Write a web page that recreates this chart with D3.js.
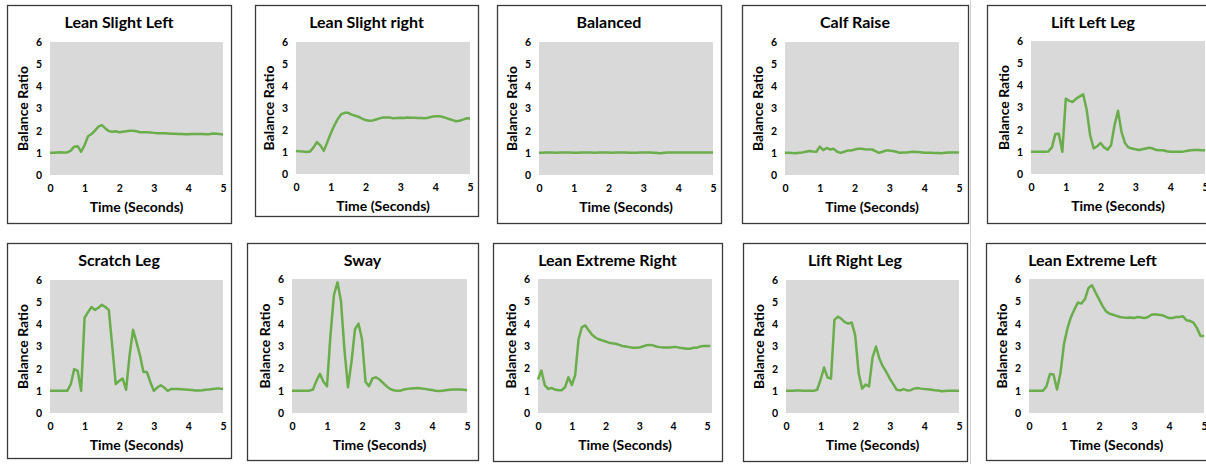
<!DOCTYPE html>
<html>
<head>
<meta charset="utf-8">
<script src="https://cdn.jsdelivr.net/npm/d3@7"></script>
<style>
  body { margin: 0; background: #fff; }
  svg { display: block; font-family: Lato, "Open Sans", sans-serif; }
</style>
</head>
<body>
<svg id="chart" width="1206" height="464"></svg>
<script>
const TIMES = [0,0.1,0.2,0.3,0.4,0.5,0.6,0.7,0.8,0.9,1.0,1.1,1.2,1.3,1.4,1.5,1.6,1.7,1.8,1.9,2.0,
  2.1,2.2,2.3,2.4,2.5,2.6,2.7,2.8,2.9,3.0,3.1,3.2,3.3,3.4,3.5,3.6,3.7,3.8,3.9,4.0,
  4.1,4.2,4.3,4.4,4.5,4.6,4.7,4.8,4.9,5.0];
const TIMES_LONG = [...TIMES, 5.1];  // "Lean Extreme Right" runs a bit past 5 s

const TITLES = ['Lean Slight Left', 'Lean Slight right', 'Balanced', 'Calf Raise', 'Lift Left Leg',
  'Scratch Leg', 'Sway', 'Lean Extreme Right', 'Lift Right Leg', 'Lean Extreme Left'];

const Y_TICKS = [0, 1, 2, 3, 4, 5, 6];
const X_TICKS = [0, 1, 2, 3, 4, 5];

const leanSlightLeft = [1.0,1.0,1.02,1.03,1.02,1.02,1.1,1.28,1.3,1.05,1.35,1.75,1.85,2.0,2.18,2.25,2.1,1.98,1.95,1.97,1.93,
  1.95,1.97,2.0,2.0,1.97,1.93,1.93,1.93,1.92,1.9,1.88,1.88,1.88,1.87,1.86,1.86,1.85,1.85,1.84,1.84,
  1.85,1.85,1.85,1.85,1.84,1.84,1.87,1.86,1.85,1.83];
const leanSlightRight = [1.05,1.03,1.02,1.0,1.02,1.2,1.45,1.3,1.05,1.45,1.85,2.2,2.5,2.72,2.78,2.78,2.7,2.65,2.6,2.52,2.45,
  2.42,2.43,2.48,2.53,2.57,2.57,2.57,2.53,2.55,2.56,2.55,2.57,2.56,2.56,2.55,2.54,2.53,2.56,2.6,2.62,
  2.63,2.6,2.55,2.5,2.45,2.4,2.42,2.47,2.53,2.52];
const balanced = [1.0,1.0,1.01,1.02,1.01,1.0,1.01,1.01,1.02,1.01,1.0,1.0,1.01,1.01,1.02,1.01,1.0,1.01,1.02,1.01,1.01,
  1.0,1.01,1.02,1.02,1.01,1.0,1.0,1.0,1.01,1.02,1.02,1.01,1.0,0.99,0.98,1.0,1.01,1.01,1.01,1.01,
  1.01,1.02,1.01,1.01,1.01,1.01,1.02,1.02,1.02,1.02];
const calfRaise = [1.0,1.0,0.99,0.98,1.0,1.02,1.05,1.08,1.06,1.05,1.28,1.12,1.22,1.15,1.18,1.05,1.0,1.05,1.1,1.1,1.15,
  1.18,1.18,1.16,1.15,1.15,1.08,1.0,1.05,1.1,1.1,1.08,1.05,1.0,1.01,1.02,1.04,1.05,1.04,1.03,1.0,
  1.0,1.0,0.99,0.99,0.98,1.0,1.02,1.02,1.02,1.02];
const liftLeftLeg = [1.0,1.0,1.0,1.0,1.0,1.02,1.2,1.8,1.82,1.0,3.4,3.3,3.25,3.4,3.5,3.6,2.9,1.75,1.15,1.25,1.4,
  1.2,1.1,1.3,2.2,2.85,1.9,1.4,1.2,1.15,1.12,1.08,1.12,1.15,1.18,1.15,1.08,1.07,1.07,1.03,1.0,
  1.0,1.0,1.0,1.02,1.05,1.07,1.08,1.08,1.07,1.07];
const scratchLeg = [1.0,1.0,1.0,1.0,1.0,1.0,1.3,1.98,1.9,1.0,4.3,4.55,4.78,4.65,4.75,4.88,4.78,4.65,3.0,1.3,1.45,
  1.55,1.05,2.6,3.75,3.2,2.6,1.85,1.85,1.4,1.0,1.15,1.25,1.15,1.0,1.08,1.08,1.08,1.07,1.06,1.05,
  1.04,1.02,1.02,1.03,1.05,1.06,1.08,1.1,1.1,1.08];
const sway = [1.0,1.0,1.0,1.0,1.0,1.0,1.05,1.45,1.75,1.4,1.2,3.5,5.3,5.85,5.0,2.8,1.15,2.3,3.75,4.0,3.3,
  1.4,1.2,1.55,1.6,1.5,1.35,1.2,1.08,1.02,1.0,1.0,1.05,1.08,1.1,1.11,1.12,1.1,1.08,1.05,1.03,
  1.0,0.98,1.0,1.02,1.04,1.05,1.05,1.05,1.04,1.02];
const leanExtremeRight = [1.5,1.9,1.25,1.08,1.12,1.05,1.02,1.02,1.15,1.6,1.25,1.7,3.3,3.85,3.92,3.7,3.5,3.38,3.3,3.25,3.2,
  3.15,3.12,3.1,3.05,3.0,2.98,2.95,2.92,2.92,2.93,2.98,3.03,3.05,3.03,2.98,2.95,2.93,2.93,2.93,2.95,
  2.95,2.92,2.9,2.88,2.88,2.92,2.92,2.98,3.0,3.0,3.0];
const liftRightLeg = [1.0,1.0,1.0,1.02,1.02,1.0,1.0,1.0,1.0,1.05,1.5,2.05,1.6,1.55,4.2,4.35,4.25,4.1,4.03,4.08,3.5,
  1.8,1.1,1.28,1.2,2.5,3.0,2.45,2.1,1.85,1.55,1.3,1.05,1.02,1.08,1.02,1.03,1.1,1.13,1.1,1.08,
  1.07,1.05,1.03,1.02,0.98,0.99,1.0,1.0,1.0,1.0];
const leanExtremeLeft = [1.0,1.0,1.0,1.0,1.0,1.2,1.75,1.72,1.05,1.8,3.1,3.8,4.3,4.65,4.95,4.9,5.1,5.6,5.72,5.4,5.1,
  4.8,4.55,4.45,4.4,4.35,4.3,4.28,4.27,4.28,4.25,4.3,4.28,4.25,4.3,4.4,4.42,4.4,4.38,4.32,4.25,
  4.25,4.3,4.3,4.33,4.15,4.12,4.05,3.8,3.45,3.45];

const SERIES = [leanSlightLeft, leanSlightRight, balanced, calfRaise, liftLeftLeg,
  scratchLeg, sway, leanExtremeRight, liftRightLeg, leanExtremeLeft];
const SERIES_TIMES = [TIMES, TIMES, TIMES, TIMES, TIMES, TIMES, TIMES, TIMES_LONG, TIMES, TIMES];

// layout: outer box [x0,y0,x1,y1], plot area [x0,y0,x1,y1], x domain end
const LAYOUT = [
  {box: [7, 5, 231, 223],     plot: [50, 42, 223, 175],     xEnd: 5},
  {box: [255, 5, 478, 216],   plot: [296, 42, 470, 174],    xEnd: 5},
  {box: [497, 5, 721, 223],   plot: [539, 42, 713, 175],    xEnd: 5},
  {box: [742, 5, 968, 223],   plot: [785, 42, 959, 175],    xEnd: 5},
  {box: [987, 5, 1215, 223],  plot: [1031, 41, 1205, 174],  xEnd: 5},
  {box: [7, 243, 231, 458],   plot: [50, 280, 223, 413],    xEnd: 5},
  {box: [247, 243, 478, 460], plot: [292, 279, 467, 413],   xEnd: 5},
  {box: [493, 243, 722, 461], plot: [538, 279, 712, 413],   xEnd: 5.15},
  {box: [743, 243, 967, 461], plot: [786, 280, 959, 413],   xEnd: 5},
  {box: [986, 243, 1215, 460], plot: [1029, 279, 1204, 413], xEnd: 5}
];

const LINE_COLOR = '#6aad4b';
const svg = d3.select('#chart');

// faint separator between 4th and 5th column
svg.append('line')
  .attr('x1', 970.5).attr('x2', 970.5).attr('y1', 0).attr('y2', 464)
  .attr('stroke', '#d0d0d0').attr('stroke-width', 1);

SERIES.forEach((values, i) => {
  const L = LAYOUT[i];
  const times = SERIES_TIMES[i];
  const g = svg.append('g');

  g.append('rect')
    .attr('x', L.box[0] + 0.5).attr('y', L.box[1] + 0.5)
    .attr('width', L.box[2] - L.box[0]).attr('height', L.box[3] - L.box[1])
    .attr('fill', '#fff').attr('stroke', '#3a3a3a').attr('stroke-width', 1.3);

  const x = d3.scaleLinear().domain([0, L.xEnd]).range([L.plot[0], L.plot[2]]);
  const y = d3.scaleLinear().domain([0, 6]).range([L.plot[3], L.plot[1]]);

  g.append('rect')
    .attr('x', L.plot[0]).attr('y', L.plot[1])
    .attr('width', L.plot[2] - L.plot[0]).attr('height', L.plot[3] - L.plot[1])
    .attr('fill', '#d9d9d9');

  // title
  g.append('text')
    .attr('x', (L.box[0] + L.box[2]) / 2 + (i === 4 || i === 9 ? -8 : 0))
    .attr('y', L.box[1] + 23)
    .attr('text-anchor', 'middle')
    .attr('font-size', 16).attr('font-weight', 'bold').attr('fill', '#000')
    .text(TITLES[i]);

  // axes: labels only, no lines or tick marks
  const yAxis = g.append('g')
    .attr('transform', 'translate(' + L.plot[0] + ',0)')
    .call(d3.axisLeft(y).tickValues(Y_TICKS).tickSize(0).tickPadding(8).tickFormat(d3.format('d')));
  const xAxis = g.append('g')
    .attr('transform', 'translate(0,' + L.plot[3] + ')')
    .call(d3.axisBottom(x).tickValues(X_TICKS).tickSize(0).tickPadding(10).tickFormat(d3.format('d')));
  [xAxis, yAxis].forEach(a => {
    a.select('.domain').remove();
    a.selectAll('text')
      .attr('font-family', 'Lato, sans-serif')
      .attr('font-size', 10.5).attr('font-weight', 'bold').attr('fill', '#000');
  });

  g.append('text')
    .attr('x', (L.plot[0] + L.plot[2]) / 2)
    .attr('y', L.plot[3] + 37)
    .attr('text-anchor', 'middle')
    .attr('font-size', 14).attr('font-weight', 'bold')
    .text('Time (Seconds)');

  g.append('text')
    .attr('transform', 'translate(' + (L.plot[0] - 22) + ',' + ((L.plot[1] + L.plot[3]) / 2) + ') rotate(-90)')
    .attr('text-anchor', 'middle')
    .attr('font-size', 14).attr('font-weight', 'bold')
    .text('Balance Ratio');

  const line = d3.line()
    .x((d, j) => x(times[j]))
    .y(d => y(d));

  g.append('path')
    .datum(values)
    .attr('d', line)
    .attr('fill', 'none')
    .attr('stroke', LINE_COLOR)
    .attr('stroke-width', 2.5)
    .attr('stroke-linejoin', 'round');
});
</script>
</body>
</html>
